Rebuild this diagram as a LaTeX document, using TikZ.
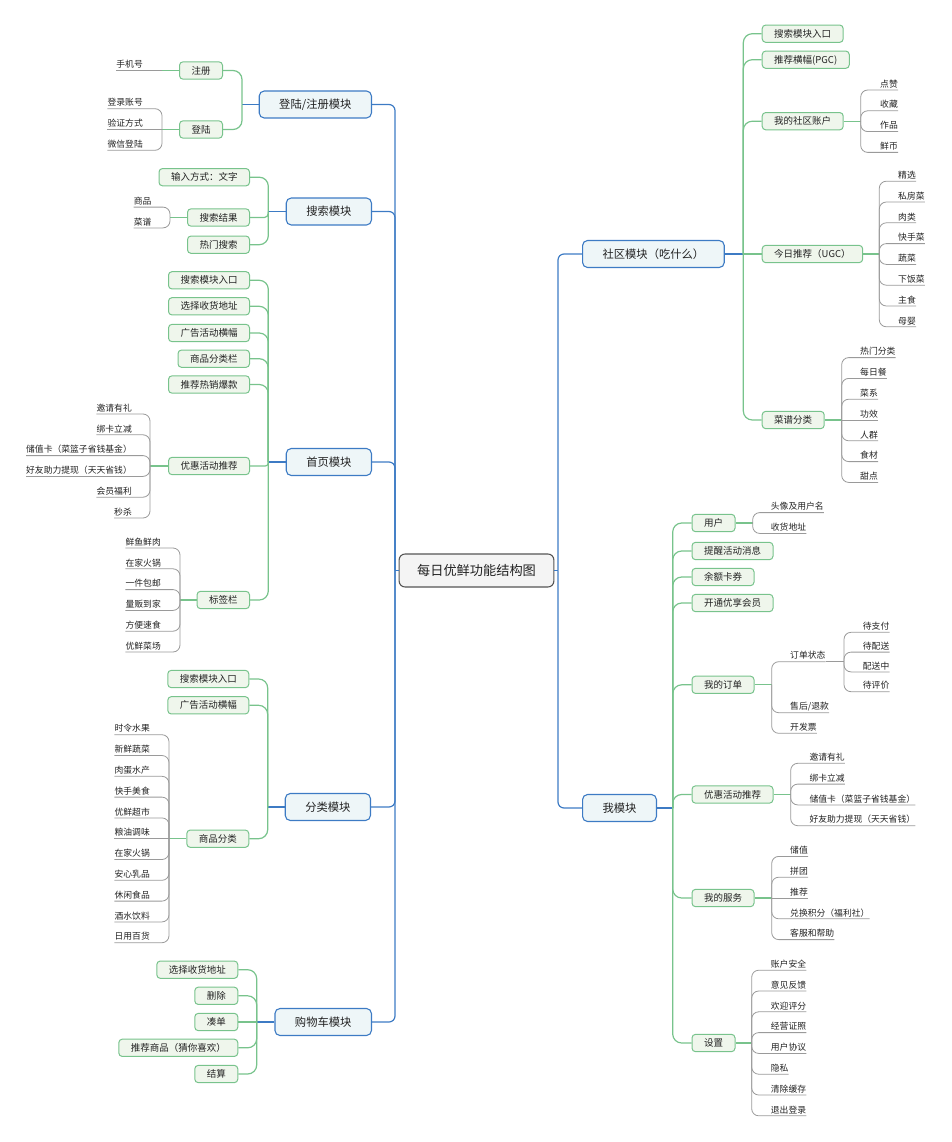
\documentclass[tikz,border=0pt]{standalone}
\usepackage{fontspec}
\setmainfont{Noto Sans CJK SC}
\definecolor{ink}{HTML}{222222}
\definecolor{trunk}{HTML}{3D7BC4}
\definecolor{modfill}{HTML}{EEF6F8}
\definecolor{rootfill}{HTML}{F4F4F4}
\definecolor{rootline}{HTML}{555555}
\definecolor{branch}{HTML}{78C38C}
\definecolor{subfill}{HTML}{EFF6EC}
\definecolor{leafline}{HTML}{9A9A9A}

\begin{document}
\begin{tikzpicture}[x=1pt, y=-1pt,
  rootbox/.style={draw=rootline, fill=rootfill, line width=1.1pt, rounded corners=6pt,
    inner xsep=18pt, inner ysep=0pt, minimum height=33pt, text=ink,
    font=\fontsize{13.2}{15}\selectfont, text height=11.6pt, text depth=1.6pt},
  modbox/.style={draw=trunk, fill=modfill, line width=1.1pt, rounded corners=5pt,
    inner xsep=20pt, inner ysep=0pt, minimum height=27pt, text=ink,
    font=\fontsize{11.3}{13}\selectfont, text height=9.9pt, text depth=1.4pt},
  subbox/.style={draw=branch, fill=subfill, line width=1pt, rounded corners=3.5pt,
    inner xsep=12pt, inner ysep=0pt, minimum height=17.3pt, text=ink,
    font=\fontsize{9.5}{11}\selectfont, text height=8.4pt, text depth=1.1pt},
  leaftext/.style={inner xsep=0pt, inner ysep=1.5pt, text=ink,
    font=\fontsize{8.8}{10}\selectfont, text height=7.7pt, text depth=1.1pt},
  bline/.style={draw=trunk, line width=1.2pt},
  gline/.style={draw=branch, line width=1.2pt},
  lline/.style={draw=leafline, line width=0.8pt}
]
  \useasboundingbox (0,0) rectangle (952,1142);

  % centre and trunks
  \node[rootbox] (root) at (476.5,570.5) {每日优鲜功能结构图};
  \coordinate (tL) at (395,570.5);
  \coordinate (tR) at (558,570.5);
  \draw[bline] (root.west) -- (tL);
  \draw[bline] (root.east) -- (tR);

  \node[modbox, anchor=east] (mDL) at (372,104.5) {登陆/注册模块};
  \node[modbox, anchor=east] (mSS) at (372,211.5) {搜索模块};
  \node[modbox, anchor=east] (mSY) at (372,462) {首页模块};
  \node[modbox, anchor=east] (mFL) at (371,807) {分类模块};
  \node[modbox, anchor=east] (mGW) at (372,1022) {购物车模块};
  \node[modbox, anchor=west] (mSQ) at (582,254) {社区模块（吃什么）};
  \node[modbox, anchor=west] (mW) at (582,808) {我模块};
  \foreach \m in {mDL,mSS,mSY,mFL,mGW} \draw[bline, rounded corners=6pt] (tL) |- (\m.east);
  \foreach \m in {mSQ,mW} \draw[bline, rounded corners=6pt] (tR) |- (\m.west);

  % 登陆/注册模块
  \coordinate (jDL) at (242,104.5);
  \node[subbox, anchor=east] (zc) at (223,70.5) {注册};
  \node[subbox, anchor=east] (dl) at (223,129.5) {登陆};
  \draw[bline] (mDL.west) -- (jDL);
  \foreach \c in {zc,dl} \draw[gline, rounded corners=9pt] (jDL) |- (\c.east);

  \coordinate (jZC) at (162,70.5);
  \node[leaftext, anchor=south east] (sjh) at (143,70.5) {手机号};
  \draw[gline] (zc.west) -- (jZC);
  \draw[lline] (jZC) -- (sjh.south west);

  \coordinate (jDLu) at (162,129.5);
  \draw[gline] (dl.west) -- (jDLu);
  \foreach \t [count=\i] in {登录账号,验证方式,微信登陆} {
    \pgfmathsetmacro\k{\i-2}
    \pgfmathsetmacro\r{\k==0 ? 0 : 7}
    \node[leaftext, anchor=south east] (dl\i) at (143,{129.5+(\k)*20.8}) {\t};
    \draw[lline, rounded corners=\r pt] (jDLu) |- (dl\i.south west);
  }

  % 搜索模块
  \coordinate (jSS) at (268.3,211.5);
  \node[subbox, anchor=east] (ss1) at (250,177.2) {输入方式：文字};
  \node[subbox, anchor=east] (ss2) at (250,217.5) {搜索结果};
  \node[subbox, anchor=east] (ss3) at (250,244.7) {热门搜索};
  \draw[bline] (mSS.west) -- (jSS);
  \foreach \c in {ss1,ss3} \draw[gline, rounded corners=9pt] (jSS) |- (\c.east);
  \draw[gline, rounded corners=4pt] (jSS) |- (ss2.east);

  \coordinate (jJG) at (170,217.5);
  \draw[gline] (ss2.west) -- (jJG);
  \foreach \t [count=\i] in {商品,菜谱} {
    \node[leaftext, anchor=south east] (jg\i) at (151.7,{217.5+(\i-1.5)*20.8}) {\t};
    \draw[lline, rounded corners=7pt] (jJG) |- (jg\i.south west);
  }

  % 首页模块
  \coordinate (jSY) at (268.3,462);
  \node[subbox, anchor=east] (sy1) at (250,280.3) {搜索模块入口};
  \node[subbox, anchor=east] (sy2) at (250,306.3) {选择收货地址};
  \node[subbox, anchor=east] (sy3) at (250,333) {广告活动横幅};
  \node[subbox, anchor=east] (sy4) at (250,358.7) {商品分类栏};
  \node[subbox, anchor=east] (sy5) at (250,384.5) {推荐热销爆款};
  \node[subbox, anchor=east] (sy6) at (250,466) {优惠活动推荐};
  \node[subbox, anchor=east] (sy7) at (250,600) {标签栏};
  \draw[bline] (mSY.west) -- (jSY);
  \foreach \c in {sy1,sy2,sy3,sy4,sy5,sy7} \draw[gline, rounded corners=9pt] (jSY) |- (\c.east);
  \draw[gline, rounded corners=3pt] (jSY) |- (sy6.east);

  \coordinate (jYH) at (150,466);
  \draw[gline] (sy6.west) -- (jYH);
  \foreach \t [count=\i] in {邀请有礼,绑卡立减,储值卡（菜篮子省钱基金）,好友助力提现（天天省钱）,会员福利,秒杀} {
    \node[leaftext, anchor=south east] (yh\i) at (132,{466+(\i-3.5)*20.8}) {\t};
    \draw[lline, rounded corners=7pt] (jYH) |- (yh\i.south west);
  }

  \coordinate (jBQ) at (180,600);
  \draw[gline] (sy7.west) -- (jBQ);
  \foreach \t [count=\i] in {鲜鱼鲜肉,在家火锅,一件包邮,量贩到家,方便速食,优鲜菜场} {
    \node[leaftext, anchor=south east] (bq\i) at (161,{600+(\i-3.5)*20.8}) {\t};
    \draw[lline, rounded corners=7pt] (jBQ) |- (bq\i.south west);
  }

  % 分类模块
  \coordinate (jFL) at (267.7,807);
  \node[subbox, anchor=east] (fl1) at (249.3,679) {搜索模块入口};
  \node[subbox, anchor=east] (fl2) at (249.3,705.3) {广告活动横幅};
  \node[subbox, anchor=east] (fl3) at (249.3,838.7) {商品分类};
  \draw[bline] (mFL.west) -- (jFL);
  \foreach \c in {fl1,fl2,fl3} \draw[gline, rounded corners=9pt] (jFL) |- (\c.east);

  \coordinate (jSP) at (169,838.7);
  \draw[gline] (fl3.west) -- (jSP);
  \foreach \t [count=\i] in {时令水果,新鲜蔬菜,肉蛋水产,快手美食,优鲜超市,粮油调味,在家火锅,安心乳品,休闲食品,酒水饮料,日用百货} {
    \pgfmathsetmacro\k{\i-6}
    \pgfmathsetmacro\r{\k==0 ? 0 : 7}
    \node[leaftext, anchor=south east] (sp\i) at (150,{838.7+(\k)*20.8}) {\t};
    \draw[lline, rounded corners=\r pt] (jSP) |- (sp\i.south west);
  }

  % 购物车模块
  \coordinate (jGW) at (256.7,1022);
  \node[subbox, anchor=east] (gw1) at (238.3,969.7) {选择收货地址};
  \node[subbox, anchor=east] (gw2) at (238.3,995.8) {删除};
  \node[subbox, anchor=east] (gw3) at (238.3,1022) {凑单};
  \node[subbox, anchor=east] (gw4) at (238.3,1047.8) {推荐商品（猜你喜欢）};
  \node[subbox, anchor=east] (gw5) at (238.3,1074) {结算};
  \draw[bline] (mGW.west) -- (jGW);
  \foreach \c in {gw1,gw2,gw4,gw5} \draw[gline, rounded corners=9pt] (jGW) |- (\c.east);
  \draw[gline] (jGW) -- (gw3.east);

  % 社区模块（吃什么）
  \coordinate (jSQ) at (743.3,254);
  \node[subbox, anchor=west] (sq1) at (761.7,33.7) {搜索模块入口};
  \node[subbox, anchor=west] (sq2) at (761.7,59.7) {推荐横幅(PGC)};
  \node[subbox, anchor=west] (sq3) at (761.7,121.2) {我的社区账户};
  \node[subbox, anchor=west] (sq4) at (761.7,254) {今日推荐（UGC）};
  \node[subbox, anchor=west] (sq5) at (761.7,420) {菜谱分类};
  \draw[bline] (mSQ.east) -- (jSQ);
  \foreach \c in {sq1,sq2,sq3,sq5} \draw[gline, rounded corners=9pt] (jSQ) |- (\c.west);
  \draw[gline] (jSQ) -- (sq4.west);

  \coordinate (jZH) at (860.7,121.2);
  \draw[gline] (sq3.east) -- (jZH);
  \foreach \t [count=\i] in {点赞,收藏,作品,鲜币} {
    \node[leaftext, anchor=south west] (zh\i) at (880,{121.2+(\i-2.5)*20.8}) {\t};
    \draw[lline, rounded corners=7pt] (jZH) |- (zh\i.south east);
  }

  \coordinate (jJR) at (879.3,254);
  \draw[gline] (sq4.east) -- (jJR);
  \foreach \t [count=\i] in {精选,私房菜,肉类,快手菜,蔬菜,下饭菜,主食,母婴} {
    \node[leaftext, anchor=south west] (jr\i) at (898,{254+(\i-4.5)*20.8}) {\t};
    \draw[lline, rounded corners=7pt] (jJR) |- (jr\i.south east);
  }

  \coordinate (jCP) at (841.7,420);
  \draw[gline] (sq5.east) -- (jCP);
  \foreach \t [count=\i] in {热门分类,每日餐,菜系,功效,人群,食材,甜点} {
    \pgfmathsetmacro\k{\i-4}
    \pgfmathsetmacro\r{\k==0 ? 0 : 7}
    \node[leaftext, anchor=south west] (cp\i) at (860,{420+(\k)*20.8}) {\t};
    \draw[lline, rounded corners=\r pt] (jCP) |- (cp\i.south east);
  }

  % 我模块
  \coordinate (jW) at (672.7,808);
  \node[subbox, anchor=west] (w1) at (691.5,523) {用户};
  \node[subbox, anchor=west] (w2) at (691.5,551) {提醒活动消息};
  \node[subbox, anchor=west] (w3) at (691.5,577) {余额卡券};
  \node[subbox, anchor=west] (w4) at (691.5,603) {开通优享会员};
  \node[subbox, anchor=west] (w5) at (691.5,684.8) {我的订单};
  \node[subbox, anchor=west] (w6) at (691.5,794.5) {优惠活动推荐};
  \node[subbox, anchor=west] (w7) at (691.5,898) {我的服务};
  \node[subbox, anchor=west] (w8) at (691.5,1043) {设置};
  \draw[bline] (mW.east) -- (jW);
  \foreach \c in {w1,w2,w3,w4,w5,w6,w7,w8} \draw[gline, rounded corners=9pt] (jW) |- (\c.west);

  \coordinate (jYB) at (752.7,523);
  \draw[gline] (w1.east) -- (jYB);
  \foreach \t [count=\i] in {头像及用户名,收货地址} {
    \node[leaftext, anchor=south west] (yb\i) at (770.7,{523+(\i-1.5)*20.8}) {\t};
    \draw[lline, rounded corners=7pt] (jYB) |- (yb\i.south east);
  }

  \coordinate (jDD) at (771.7,684.8);
  \draw[gline] (w5.east) -- (jDD);
  \node[leaftext, anchor=south west] (dd1) at (790,661.7) {订单状态};
  \node[leaftext, anchor=south west] (dd2) at (790,712.7) {售后/退款};
  \node[leaftext, anchor=south west] (dd3) at (790,733.3) {开发票};
  \foreach \c in {dd1,dd2,dd3} \draw[lline, rounded corners=7pt] (jDD) |- (\c.south east);

  \coordinate (jZT) at (844,661.7);
  \draw[lline] (dd1.south east) -- (jZT);
  \foreach \t [count=\i] in {待支付,待配送,配送中,待评价} {
    \node[leaftext, anchor=south west] (zt\i) at (862.7,{662+(\i-2.5)*19.8}) {\t};
    \draw[lline, rounded corners=7pt] (jZT) |- (zt\i.south east);
  }

  \coordinate (jYR) at (790.7,794.5);
  \draw[gline] (w6.east) -- (jYR);
  \foreach \t [count=\i] in {邀请有礼,绑卡立减,储值卡（菜篮子省钱基金）,好友助力提现（天天省钱）} {
    \node[leaftext, anchor=south west] (yr\i) at (809.3,{794.5+(\i-2.5)*20.8}) {\t};
    \draw[lline, rounded corners=7pt] (jYR) |- (yr\i.south east);
  }

  \coordinate (jFW) at (771.7,898);
  \draw[gline] (w7.east) -- (jFW);
  \foreach \t [count=\i] in {储值,拼团,推荐,兑换积分（福利社）,客服和帮助} {
    \pgfmathsetmacro\k{\i-3}
    \pgfmathsetmacro\r{\k==0 ? 0 : 7}
    \node[leaftext, anchor=south west] (fw\i) at (790,{898+(\k)*20.8}) {\t};
    \draw[lline, rounded corners=\r pt] (jFW) |- (fw\i.south east);
  }

  \coordinate (jSZ) at (751.7,1043);
  \draw[gline] (w8.east) -- (jSZ);
  \foreach \t [count=\i] in {账户安全,意见反馈,欢迎评分,经营证照,用户协议,隐私,清除缓存,退出登录} {
    \node[leaftext, anchor=south west] (sz\i) at (770.7,{1043+(\i-4.5)*20.8}) {\t};
    \draw[lline, rounded corners=7pt] (jSZ) |- (sz\i.south east);
  }
\end{tikzpicture}
\end{document}
